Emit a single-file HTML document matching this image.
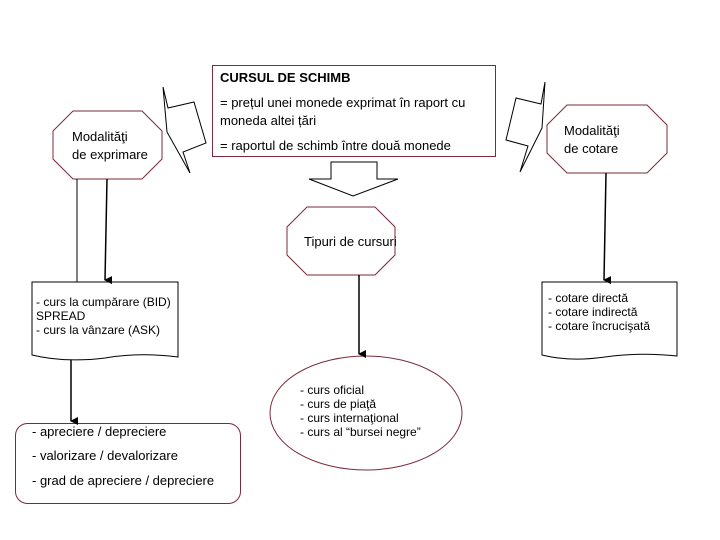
<!DOCTYPE html>
<html><head><meta charset="utf-8"><style>
html,body{margin:0;padding:0;background:#fff;}
svg{display:block;}
text{font-family:"Liberation Sans",sans-serif;font-size:13px;fill:#000;}
.s{font-size:12px;}
</style></head><body>
<svg width="720" height="540" viewBox="0 0 720 540" xmlns="http://www.w3.org/2000/svg">
<defs><marker id="a" markerWidth="8" markerHeight="8" refX="4" refY="7" orient="auto" markerUnits="userSpaceOnUse"><path d="M0,0 L8,0 L4,8 z" fill="#000"/></marker></defs>
<g fill="none" stroke="#7a2a3a" stroke-width="1">
<rect x="212.5" y="65.5" width="283" height="91"/>
<polygon points="73,111 142,111 162,131 162,159 142,179 73,179 53,159 53,131"/>
<polygon points="567,105 647,105 667,125 667,153 647,173 567,173 547,153 547,125"/>
<polygon points="307,207 375,207 395,227 395,255 375,275 307,275 287,255 287,227"/>
<ellipse cx="366" cy="413" rx="96" ry="57"/>
<rect x="15.5" y="423.5" width="225" height="80" rx="12"/>
</g>
<g fill="none" stroke="#000" stroke-width="1">
<polygon points="163,87 168,108 194,102 206,143 183,152 190,173 167,132"/>
<polygon points="545,82 541,104 516,98 506,140 528,146 520,172 542,128"/>
<path d="M331,162 L377,162 L377,179 L398,179 L353,196 L309,179 L331,179 Z"/>
<path d="M32,282 L178,282 L178,357 Q140,352 105,358 Q65,363 32,355 Z"/>
<path d="M542,282 L677,282 L677,356 Q640,352 605,357 Q570,362 542,355 Z"/>
<line x1="77" y1="179" x2="77" y2="282"/>
<line x1="107" y1="179" x2="105" y2="280" stroke-width="1.5" marker-end="url(#a)"/>
<line x1="71" y1="360" x2="71" y2="421" stroke-width="1.5" marker-end="url(#a)"/>
<line x1="359" y1="275" x2="359" y2="354" stroke-width="1.5" marker-end="url(#a)"/>
<line x1="606" y1="173" x2="604" y2="280" stroke-width="1.5" marker-end="url(#a)"/>
</g>
<text x="220" y="82" font-weight="bold">CURSUL DE SCHIMB</text>
<text x="220" y="107"> = prețul unei monede exprimat în raport cu</text>
<text x="220" y="125">moneda altei țări</text>
<text x="220" y="150">= raportul de schimb între două monede</text>
<text x="72" y="141">Modalităţi</text>
<text x="72" y="159">de exprimare</text>
<text x="564" y="135">Modalităţi</text>
<text x="564" y="153">de cotare</text>
<text x="304" y="246">Tipuri de cursuri</text>
<text class="s" x="36" y="306">- curs la cumpărare  (BID)</text>
<text class="s" x="36" y="320">SPREAD</text>
<text class="s" x="36" y="334">- curs la vânzare (ASK)</text>
<text class="s" x="548" y="302">- cotare directă</text>
<text class="s" x="548" y="316">- cotare indirectă</text>
<text class="s" x="548" y="330">- cotare încrucişată</text>
<text class="s" x="300" y="394">- curs oficial</text>
<text class="s" x="300" y="408">- curs de piaţă</text>
<text class="s" x="300" y="422">- curs internaţional</text>
<text class="s" x="300" y="436">- curs al “bursei negre”</text>
<text x="32" y="436">- apreciere / depreciere</text>
<text x="32" y="460">- valorizare / devalorizare</text>
<text x="32" y="485">- grad de apreciere / depreciere</text>
</svg>
</body></html>
